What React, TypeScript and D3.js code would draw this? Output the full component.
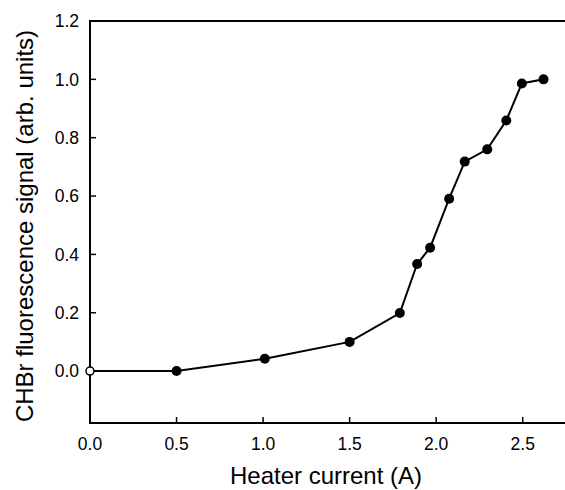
import { useEffect, useRef } from 'react';
import * as d3 from 'd3';

// Heater current (A) vs CHBr fluorescence signal (arb. units)
const currents = [0.5, 1.01, 1.5, 1.79, 1.89, 1.965, 2.075, 2.165, 2.295, 2.405, 2.495, 2.62];
const signals = [0.0, 0.042, 0.1, 0.199, 0.367, 0.423, 0.591, 0.718, 0.76, 0.859, 0.986, 1.0];
const originPoint = [0.0, 0.0];
const xTicks = [0.0, 0.5, 1.0, 1.5, 2.0, 2.5];
const yTicks = [0.0, 0.2, 0.4, 0.6, 0.8, 1.0, 1.2];

function App() {
  const svgRef = useRef<SVGSVGElement>(null);

  useEffect(() => {
    const width = 565;
    const height = 490;
    const margin = { top: 21, right: 0, bottom: 67, left: 90 };
    const font = 'Liberation Sans, Arial, sans-serif';

    const svg = d3.select(svgRef.current);
    svg.selectAll('*').remove();

    const x = d3.scaleLinear().domain([0, 2.75]).range([margin.left, margin.left + 476]);
    const y = d3.scaleLinear().domain([-0.178, 1.2]).range([height - margin.bottom, margin.top]);

    const x0 = x(0);
    const yb = y(-0.178);
    const yt = y(1.2);

    // frame: left, bottom, top
    svg.append('path')
      .attr('d', `M${width + 5},${yt}H${x0}V${yb}H${width + 5}`)
      .attr('fill', 'none')
      .attr('stroke', '#000')
      .attr('stroke-width', 2);

    // y ticks (inward)
    svg.append('g').selectAll('line')
      .data(yTicks.slice(0, -1))
      .join('line')
      .attr('x1', x0).attr('x2', x0 + 6)
      .attr('y1', d => y(d)).attr('y2', d => y(d))
      .attr('stroke', '#000').attr('stroke-width', 1.5);

    svg.append('g').selectAll('text')
      .data(yTicks)
      .join('text')
      .attr('x', x0 - 11)
      .attr('y', d => y(d))
      .attr('dy', '0.36em')
      .attr('text-anchor', 'end')
      .style('font-family', font)
      .style('font-size', '17.5px')
      .text(d => d.toFixed(1));

    // x ticks (inward)
    svg.append('g').selectAll('line')
      .data(xTicks.slice(1))
      .join('line')
      .attr('x1', d => x(d)).attr('x2', d => x(d))
      .attr('y1', yb).attr('y2', yb - 6)
      .attr('stroke', '#000').attr('stroke-width', 1.5);

    svg.append('g').selectAll('text')
      .data(xTicks)
      .join('text')
      .attr('x', d => x(d))
      .attr('y', yb + 27)
      .attr('text-anchor', 'middle')
      .style('font-family', font)
      .style('font-size', '17.5px')
      .text(d => d.toFixed(1));

    // data line
    const pts: [number, number][] = [[originPoint[0], originPoint[1]], ...currents.map((c, i) => [c, signals[i]] as [number, number])];
    const line = d3.line<[number, number]>()
      .x(d => x(d[0]))
      .y(d => y(d[1]));

    svg.append('path')
      .datum(pts)
      .attr('fill', 'none')
      .attr('stroke', '#000')
      .attr('stroke-width', 2)
      .attr('d', line);

    svg.append('g').selectAll('circle')
      .data(pts.slice(1))
      .join('circle')
      .attr('cx', d => x(d[0]))
      .attr('cy', d => y(d[1]))
      .attr('r', 5)
      .attr('fill', '#000');

    svg.append('circle')
      .attr('cx', x(originPoint[0]))
      .attr('cy', y(originPoint[1]))
      .attr('r', 4)
      .attr('fill', '#fff')
      .attr('stroke', '#000')
      .attr('stroke-width', 1.5);

    // axis titles
    svg.append('text')
      .attr('x', 326)
      .attr('y', 484)
      .attr('text-anchor', 'middle')
      .style('font-family', font)
      .style('font-size', '24px')
      .text('Heater current (A)');

    svg.append('text')
      .attr('transform', `translate(33,${226}) rotate(-90)`)
      .attr('text-anchor', 'middle')
      .style('font-family', font)
      .style('font-size', '24px')
      .text('CHBr fluorescence signal (arb. units)');
  }, []);

  return (
    <svg
      ref={svgRef}
      width={565}
      height={490}
      style={{ position: 'absolute', left: 0, top: 0, background: '#fff' }}
    />
  );
}

export default App;
